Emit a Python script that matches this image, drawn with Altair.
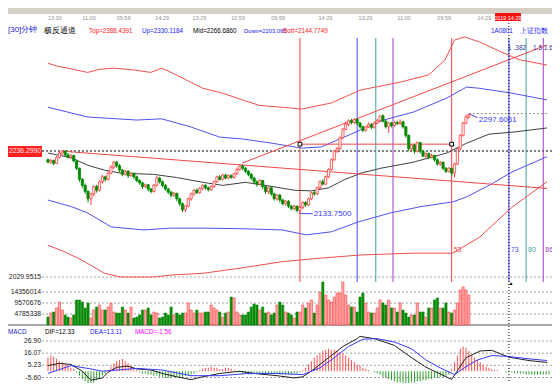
import altair as alt
import pandas as pd

# ---------------- candles (30-minute bars) ----------------
opens = [2222,2218,2221,2216,2226,2233,2236,2230,2226,2229,
 2220,2208,2190,2180,2170,2158,2166,2178,2172,2186,
 2194,2190,2200,2210,2218,2212,2205,2198,2203,2196,
 2200,2194,2188,2184,2178,2181,2174,2170,2180,2192,
 2186,2180,2174,2169,2164,2167,2158,2150,2140,2146,
 2158,2166,2172,2168,2175,2180,2176,2173,2178,2186,
 2194,2190,2197,2192,2196,2193,2199,2206,2212,2208,
 2203,2198,2192,2186,2182,2188,2178,2170,2176,2166,
 2158,2164,2156,2150,2154,2146,2142,2146,2139,2144,
 2152,2148,2158,2168,2166,2176,2186,2182,2194,2206,
 2222,2236,2240,2258,2272,2280,2286,2283,2288,2282,
 2276,2270,2276,2280,2275,2282,2286,2294,2285,2276,
 2282,2278,2283,2281,2284,2276,2262,2240,2246,2236,
 2250,2236,2228,2232,2226,2229,2222,2215,2218,2208,
 2203,2208,2200,2215,2240,2262,2282,2292]
closes = [2218,2221,2216,2226,2233,2236,2230,2226,2229,2220,
 2208,2190,2180,2170,2158,2166,2178,2172,2186,2194,
 2190,2200,2210,2218,2212,2205,2198,2203,2196,2200,
 2194,2188,2184,2178,2181,2174,2170,2180,2192,2186,
 2180,2174,2169,2164,2167,2158,2150,2140,2146,2158,
 2166,2172,2168,2175,2180,2176,2173,2178,2186,2194,
 2190,2197,2192,2196,2193,2199,2206,2212,2208,2203,
 2198,2192,2186,2182,2188,2178,2170,2176,2166,2158,
 2164,2156,2150,2154,2146,2142,2146,2139,2144,2152,
 2148,2158,2168,2166,2176,2186,2182,2194,2206,2222,
 2236,2240,2258,2272,2280,2286,2283,2288,2282,2276,
 2270,2276,2280,2275,2282,2286,2294,2285,2276,2282,
 2278,2283,2281,2284,2276,2262,2240,2246,2236,2250,
 2236,2228,2232,2226,2229,2222,2215,2218,2208,2203,
 2208,2200,2215,2240,2262,2282,2292,2296]
highs = [2224,2223,2222,2228,2236,2238,2238,2233,2231,2230,
 2221,2209,2192,2183,2172,2168,2180,2181,2188,2197,
 2196,2203,2213,2220,2220,2215,2207,2206,2205,2202,
 2201,2196,2190,2186,2183,2182,2176,2182,2195,2194,
 2188,2182,2176,2171,2169,2168,2160,2152,2148,2160,
 2168,2174,2175,2177,2182,2182,2178,2180,2188,2196,
 2197,2199,2199,2198,2198,2201,2209,2214,2214,2210,
 2205,2200,2194,2188,2190,2189,2180,2178,2178,2168,
 2166,2166,2158,2156,2156,2148,2148,2147,2146,2154,
 2154,2160,2170,2172,2178,2188,2190,2196,2208,2224,
 2238,2243,2260,2274,2284,2288,2289,2290,2290,2284,
 2278,2278,2283,2282,2285,2289,2293,2296,2287,2284,
 2284,2285,2286,2288,2286,2277,2263,2248,2248,2252,
 2251,2238,2234,2234,2232,2230,2224,2220,2219,2210,
 2210,2209,2217,2242,2264,2284,2296,2297.6061]
lows = [2216,2215,2213,2215,2224,2230,2228,2224,2223,2218,
 2205,2186,2176,2166,2152,2148,2162,2168,2170,2183,
 2186,2188,2198,2207,2209,2202,2195,2196,2192,2194,
 2190,2185,2181,2174,2176,2170,2167,2168,2178,2183,
 2177,2171,2166,2160,2161,2154,2146,2136,2136,2144,
 2155,2163,2166,2166,2172,2173,2170,2171,2176,2184,
 2188,2188,2190,2190,2191,2191,2197,2204,2205,2200,
 2195,2189,2182,2178,2180,2174,2166,2166,2163,2155,
 2155,2152,2147,2147,2143,2139,2139,2136,2133.75,2141,
 2145,2146,2156,2163,2164,2174,2180,2180,2192,2204,
 2220,2233,2238,2256,2270,2277,2280,2280,2279,2273,
 2267,2268,2274,2272,2273,2280,2284,2283,2273,2266,
 2275,2276,2279,2279,2273,2258,2236,2236,2232,2234,
 2232,2226,2225,2223,2224,2219,2212,2212,2205,2200,
 2201,2196,2193,2213,2238,2260,2280,2289]
# volume in units of 10,000 shares
volumes_wan = [348,522,566,740,1001,653,435,348,304,435,
 1088,1088,1001,740,957,304,653,783,870,653,
 653,783,957,566,522,522,783,653,522,783,
 304,348,435,653,653,740,435,566,522,304,
 348,522,435,783,435,522,435,522,522,957,
 653,522,653,522,522,566,566,870,740,653,
 566,348,522,566,1218,1175,566,435,435,435,
 566,783,914,870,653,783,522,566,435,522,
 870,1001,870,566,522,435,304,566,566,870,
 740,957,1088,522,870,1436,1871,1305,1088,1001,
 1218,1392,1392,1871,1305,870,783,783,566,1218,
 1392,957,566,522,522,740,1088,957,870,1088,
 740,740,566,957,653,522,348,435,435,957,
 566,566,348,740,740,1088,1175,740,740,957,
 566,522,653,957,1523,1653,1523,1305]
VOL_UNIT = 10000

# ---------------- MACD ----------------
macd_hist = [12,14,13,11,9,8,6,5,3,2,
 -1,-4,-7,-9,-11,-11,-10,-8,-6,-4,
 -2,1,4,7,9,10,11,9,7,5,
 3,1,-1,-2,-2,-3,-3,-4,-4,-5,
 -5,-6,-6,-6,-5,-5,-6,-5,-4,-4,
 -3,-2,-1,1,2,3,3,4,3,3,
 2,2,3,3,2,1,-1,-1,-2,-2,
 -3,-3,-2,-2,-3,-3,-3,-2,-2,-2,
 -2,-3,-3,-3,-3,-3,-2,-2,-1,1,
 3,6,9,12,14,16,18,19,20,19,
 19,18,17,16,14,12,10,8,6,5,
 3,2,1,0,-1,-2,-3,-5,-6,-7,
 -8,-9,-10,-10,-11,-11,-11,-10,-10,-9,
 -9,-8,-8,-7,-7,-6,-6,-5,-5,-4,
 -3,2,8,14,20,22,21,18,
 14,12,10,8,6,4,3,2,1,1,
 0,0,-1,-1,-1,-2,-2,-2,-2,-3,
 -3,-3,-3,-3,-3,-3,-3,-3]
dif_i = [0,4,8,12,15,19,21,24,28,31,36,40,45,50,54,60,67,72,80,86,89,93,98,103,108,109,114,121,127,132,141,146,151,155,161,168,174.3]
dif_v = [5,7,6,0,-8,-6,-1,3.5,4.5,2,1,-2,-5,-7.5,-5,-2,0,-2,-4,-6,-5,2,12,22,29,31,29,23,12,3.6,-7.3,12,18,18.6,12.5,9.5,7.8]
dea_i = [0,8,15,19,24,31,40,50,60,70,80,89,95,100,105,110,115,121,127,132,137,142,146,150,155,161,168,174.3]
dea_v = [-2,5,2,0,1,2.5,1,-4,-4,-2,-2,-3,3,12,22,28.5,29,26,20,10,3,-3,4,10,14,13.1,11,9.5]

# ---------------- 极反通道 bands ----------------
top_i = [0,3.4,6.9,13.8,17.9,23.1,30,35.9,39.7,44.8,54.1,61,67.9,73.8,81.7,88.6,99,109,123,133,138.6,142,145.5,150.7,157.6,164.5,174.3]
top_v = [2380,2375,2372,2365,2370,2372,2369,2365,2372,2361,2339,2331,2320,2311,2308,2305,2315,2336,2349,2361,2385,2418,2423,2415,2400,2386,2377]
up_i = [0,6.9,13.8,31,39.7,49.7,60,67.9,78.3,88.6,95.5,102.4,109.3,117.2,127.6,139.3,146.2,150.7,162,174.3]
up_v = [2308,2300,2292,2287,2289,2276,2259,2256,2249,2241,2243,2257,2271,2287,2300,2323,2341,2339,2331,2320]
mid_i = [0,8.3,13.8,19.7,25.5,36.9,44.8,54.1,61,69,77.2,86.2,92,98,103.4,109.3,116.2,127.6,139.3,146.2,154.1,162,174.3]
mid_v = [2233,2225,2213,2205,2200,2198,2193,2185,2180,2185,2179,2172,2171,2176,2189,2200,2208,2218,2233,2249,2264,2267,2274]
down_i = [0,8.3,13.8,22.1,33.4,42.8,54.1,67.9,81.7,90.3,99,108.3,119.7,130,141.4,146.2,155.2,162.1,174.3]
down_v = [2156,2145,2135,2112,2107,2110,2110,2109,2107,2099,2104,2120,2135,2145,2153,2161,2183,2202,2227]
bott_i = [0,5.9,11.7,19.7,25.5,31.7,36.9,42.8,54.1,67.9,81.7,95.5,109.3,127.6,141.4,150.7,162,174.3]
bott_v = [2082,2071,2058,2036,2030,2030,2030,2033,2036,2045,2055,2061,2066,2069,2069,2095,2144,2186]

# ---------------- drawn lines / marks ----------------
fib_i = [88, 108, 114.5, 120.5, 141, 161, 167, 173]
fib_col = ["#ff4040", "#4848ff", "#40a0a0", "#a040c0", "#ff4040", "#4848ff", "#40a0a0", "#a040c0"]
fib_lab = ["53", "73", "80", "86"]
fib_lab_i = [141, 161, 167, 173]
fib_lab_col = ["#ff4040", "#4848ff", "#40a0a0", "#a040c0"]
ratio_lab = ["1", ".382", "1.5", "1.6"]
ratio_i = [160.6, 162.6, 169.4, 173.2]

time_labels = ["13:30", "11:00", "09:59", "14:29", "13:29", "10:59", "09:59",
               "14:29", "13:29", "11:00", "09:59", "14:29"]
time_idx = [0, 12, 24, 37.5, 50.5, 64, 78, 94.5, 108.5, 122, 136, 150]

# ---------------- layout helpers ----------------
W, H = 510, 375
XS = alt.Scale(domain=[-0.342, 174.3], nice=False, zero=False)


def dom(v1, y1, v2, y2):
    s = (v1 - v2) / (y2 - y1)
    return [v1 - (383 - y1) * s, v1 + (y1 - 8) * s]


PS = alt.Scale(domain=dom(2236.299, 151, 2029.9515, 277), nice=False, zero=False)
VS = alt.Scale(domain=dom(1435.6014, 292, 0, 325), nice=False, zero=False)
MS = alt.Scale(domain=dom(26.90, 341, -5.60, 377.5), nice=False, zero=False)

FONT = "Liberation Sans"
UP_C, DN_C = "#ff3c3c", "#008a00"

n = len(opens)
assert len(closes) == n and len(highs) == n and len(lows) == n and len(volumes_wan) == n

cd = pd.DataFrame({"i": range(n), "o": opens, "c": closes, "h": highs, "l": lows,
                   "vol": volumes_wan, "z": 0})
cd["up"] = cd["c"] >= cd["o"]
cd["stroke"] = cd["up"].map({True: UP_C, False: DN_C})
cd["fill"] = cd["up"].map({True: "#ffffff", False: DN_C})
cd["vfill"] = cd["up"].map({True: "#ffb0b0", False: "#0a8a0a"})

X = alt.X("i:Q", scale=XS, axis=None)


def Yp(f):
    return alt.Y(f, scale=PS, axis=None)


def Yv(f):
    return alt.Y(f, scale=VS, axis=None)


def Ym(f):
    return alt.Y(f, scale=MS, axis=None)


one = pd.DataFrame({"a": [0]})
layers = []

# toolbar strip
layers.append(alt.Chart(one).mark_rect(color="#d4d0c8").encode(
    x=alt.value(-34), x2=alt.value(W), y=alt.value(-8), y2=alt.value(6)))

# grid lines
pg = pd.DataFrame({"v": [2236.299, 2029.9515], "col": ["#000000", "#a0a0a0"]})
layers.append(alt.Chart(pg).mark_rule(strokeDash=[2, 2], strokeWidth=1).encode(
    y=Yp("v:Q"), x=alt.value(0), x2=alt.value(W), color=alt.Color("col:N", scale=None)))
vg = pd.DataFrame({"v": [1435.6014, 957.0676, 478.5338]})
layers.append(alt.Chart(vg).mark_rule(strokeDash=[2, 2], color="#a0a0a0").encode(
    y=Yv("v:Q"), x=alt.value(0), x2=alt.value(W)))
layers.append(alt.Chart(pd.DataFrame({"v": [0]})).mark_rule(color="#505050").encode(
    y=Yv("v:Q"), x=alt.value(-34), x2=alt.value(W)))
mg = pd.DataFrame({"v": [26.90, 16.07, 5.23, -5.60]})
layers.append(alt.Chart(mg).mark_rule(strokeDash=[2, 2], color="#a0a0a0").encode(
    y=Ym("v:Q"), x=alt.value(0), x2=alt.value(W)))

# fibonacci time lines
fd = pd.DataFrame({"i": fib_i, "col": fib_col})
layers.append(alt.Chart(fd).mark_rule(strokeWidth=1).encode(
    x=X, y=alt.value(30), y2=alt.value(274), color=alt.Color("col:N", scale=None)))

# bands
rows = []
for name, xs, vs, col in [("top", top_i, top_v, "#f05050"), ("up", up_i, up_v, "#5050f0"),
                          ("mid", mid_i, mid_v, "#404040"), ("down", down_i, down_v, "#5050f0"),
                          ("bott", bott_i, bott_v, "#f05050")]:
    for a, b in zip(xs, vs):
        rows.append({"i": a, "v": b, "band": name, "col": col})
bd = pd.DataFrame(rows)
layers.append(alt.Chart(bd).mark_line(strokeWidth=1).encode(
    x=X, y=Yp("v:Q"), detail="band:N", color=alt.Color("col:N", scale=None)))

# channel / drawn lines
seg = pd.DataFrame([
    {"i": 5, "v": 2236, "s": "a", "col": "#f04848"},
    {"i": 174.3, "v": 2175, "s": "a", "col": "#f04848"},
    {"i": 67.9, "v": 2216.6, "s": "b", "col": "#f04848"},
    {"i": 174.3, "v": 2410, "s": "b", "col": "#f04848"},
    {"i": 88, "v": 2247.5, "s": "c", "col": "#f04848"},
    {"i": 141, "v": 2247.5, "s": "c", "col": "#f04848"},
    {"i": 147, "v": 2297.6061, "s": "d", "col": "#4848ff"},
    {"i": 150, "v": 2291, "s": "d", "col": "#4848ff"},
    {"i": 88, "v": 2133.75, "s": "e", "col": "#4848ff"},
    {"i": 92.5, "v": 2133.75, "s": "e", "col": "#4848ff"},
])
layers.append(alt.Chart(seg).mark_line(strokeWidth=1).encode(
    x=X, y=Yp("v:Q"), detail="s:N", color=alt.Color("col:N", scale=None)))
hl = pd.DataFrame({"i": [147, 174.3], "v": [2297.6061, 2297.6061]})
layers.append(alt.Chart(hl).mark_line(strokeWidth=1, strokeDash=[2, 2], color="#909090").encode(
    x=X, y=Yp("v:Q")))

# candles
layers.append(alt.Chart(cd).mark_rule(strokeWidth=1).encode(
    x=X, y=Yp("l:Q"), y2="h:Q", color=alt.Color("stroke:N", scale=None)))
layers.append(alt.Chart(cd).mark_bar(size=2.2, strokeWidth=0.8).encode(
    x=X, y=Yp("o:Q"), y2="c:Q", fill=alt.Fill("fill:N", scale=None),
    stroke=alt.Stroke("stroke:N", scale=None)))

# square markers
sq = pd.DataFrame({"i": [88, 141], "v": [2247.5, 2247.5]})
layers.append(alt.Chart(sq).mark_point(shape="square", size=14, filled=True, fill="#ffffff",
                                       stroke="#000000", strokeWidth=1, opacity=1).encode(
    x=X, y=Yp("v:Q")))

# volume
layers.append(alt.Chart(cd).mark_bar(size=2.2, strokeWidth=0.6).encode(
    x=X, y=Yv("vol:Q"), y2="z:Q", fill=alt.Fill("vfill:N", scale=None),
    stroke=alt.Stroke("stroke:N", scale=None)))

# MACD histogram and lines
hd = pd.DataFrame({"i": range(len(macd_hist)), "h": macd_hist, "z": 0})
hd["col"] = [("#ff5050" if v > 0 else "#30a030") for v in macd_hist]
layers.append(alt.Chart(hd).mark_rule(strokeWidth=1).encode(
    x=X, y=Ym("h:Q"), y2="z:Q", color=alt.Color("col:N", scale=None)))
layers.append(alt.Chart(pd.DataFrame({"i": dif_i, "v": dif_v})).mark_line(
    strokeWidth=1, color="#202020").encode(x=X, y=Ym("v:Q")))
layers.append(alt.Chart(pd.DataFrame({"i": dea_i, "v": dea_v})).mark_line(
    strokeWidth=1, color="#3838ff").encode(x=X, y=Ym("v:Q")))

# cursor line
layers.append(alt.Chart(pd.DataFrame({"i": [161]})).mark_rule(
    strokeDash=[1, 2], color="#000000").encode(x=X, y=alt.value(6), y2=alt.value(376)))
layers.append(alt.Chart(pd.DataFrame({"i": [161], "v": [2020], "t": ["▲"]})).mark_text(
    fontSize=5, color="#000000", dx=2).encode(x=X, y=Yp("v:Q"), text="t:N"))

# price-box on the left
layers.append(alt.Chart(one).mark_rect(color="#ff2020").encode(
    x=alt.value(-34), x2=alt.value(0), y=alt.value(138), y2=alt.value(149)))
layers.append(alt.Chart(pd.DataFrame({"v": [2236.299], "t": ["2236.2990"]})).mark_text(
    align="center", baseline="middle", fontSize=6.8, font=FONT, color="#ffe8e8").encode(
    x=alt.value(-17), y=Yp("v:Q"), text="t:N"))

# left axis labels
lab_kw = dict(align="right", baseline="middle", fontSize=6.8, font=FONT, color="#202020")
layers.append(alt.Chart(pd.DataFrame({"v": [2029.9515], "t": ["2029.9515"]})).mark_text(
    **lab_kw).encode(x=alt.value(-1), y=Yp("v:Q"), text="t:N"))
layers.append(alt.Chart(pd.DataFrame({"v": [1435.6014, 957.0676, 478.5338],
                                      "t": ["14356014", "9570676", "4785338"]})).mark_text(
    **lab_kw).encode(x=alt.value(-1), y=Yv("v:Q"), text="t:N"))
layers.append(alt.Chart(pd.DataFrame({"v": [26.90, 16.07, 5.23, -5.60],
                                      "t": ["26.90", "16.07", "5.23", "-5.60"]})).mark_text(
    **lab_kw).encode(x=alt.value(-1), y=Ym("v:Q"), text="t:N"))

# price annotations
layers.append(alt.Chart(pd.DataFrame({"i": [150.5], "v": [2297.6061], "t": ["2297.6061"]})).mark_text(
    align="left", baseline="middle", dy=6, fontSize=8, font=FONT, color="#3838ff").encode(
    x=X, y=Yp("v:Q"), text="t:N"))
layers.append(alt.Chart(pd.DataFrame({"i": [92.8], "v": [2133.75], "t": ["2133.7500"]})).mark_text(
    align="left", baseline="middle", fontSize=8, font=FONT, color="#3838ff").encode(
    x=X, y=Yp("v:Q"), text="t:N"))
layers.append(alt.Chart(pd.DataFrame({"i": fib_lab_i, "v": [2074] * 4, "t": fib_lab,
                                      "col": fib_lab_col})).mark_text(
    align="left", baseline="middle", dx=2, fontSize=7, font=FONT).encode(
    x=X, y=Yp("v:Q"), text="t:N", color=alt.Color("col:N", scale=None)))
layers.append(alt.Chart(pd.DataFrame({"i": ratio_i, "v": [2405] * 4, "t": ratio_lab})).mark_text(
    align="left", baseline="middle", fontSize=6.5, font=FONT, color="#3030a0").encode(
    x=X, y=Yp("v:Q"), text="t:N"))

# time row
layers.append(alt.Chart(pd.DataFrame({"i": time_idx, "t": time_labels})).mark_text(
    align="left", baseline="middle", fontSize=5.5, font=FONT, color="#909090").encode(
    x=X, y=alt.value(10), text="t:N"))
layers.append(alt.Chart(one).mark_rect(color="#ff1010").encode(
    x=alt.value(453), x2=alt.value(479), y=alt.value(5), y2=alt.value(13)))
layers.append(alt.Chart(pd.DataFrame({"t": ["0119 14:29"]})).mark_text(
    align="center", baseline="middle", fontSize=5.5, font=FONT, color="#ffffff").encode(
    x=alt.value(466), y=alt.value(9.5), text="t:N"))

# header texts
hdr_big = pd.DataFrame([
    {"x": -34, "y": 22, "t": "[30]分钟", "col": "#2020d0", "s": 8},
    {"x": 2, "y": 23, "t": "极反通道", "col": "#000000", "s": 8},
    {"x": 478, "y": 23, "t": "上证指数", "col": "#2020ff", "s": 7},
])
layers.append(alt.Chart(hdr_big).mark_text(align="left", baseline="middle",
                                           font=FONT).encode(
    x=alt.X("x:Q", scale=None), y=alt.Y("y:Q", scale=None), text="t:N",
    size=alt.Size("s:Q", scale=None, legend=None),
    color=alt.Color("col:N", scale=None)))
hdr = pd.DataFrame([
    {"x": 47, "y": 23, "t": "Top=2388.4391", "col": "#ff2020", "s": 6.3},
    {"x": 100, "y": 23, "t": "Up=2330.1184", "col": "#2020ff", "s": 6.3},
    {"x": 151, "y": 23, "t": "Mid=2266.6860", "col": "#000000", "s": 6.3},
    {"x": 202, "y": 23, "t": "Down=2203.095", "col": "#2020ff", "s": 5.8},
    {"x": 241, "y": 23, "t": "Bott=2144.7749", "col": "#ff2020", "s": 6.3},
    {"x": 449, "y": 23, "t": "1A0801", "col": "#2020ff", "s": 6.3},
    {"x": -34, "y": 324, "t": "MACD", "col": "#2020d0", "s": 6.3},
    {"x": 3, "y": 324, "t": "DIF=12.33", "col": "#000000", "s": 6.3},
    {"x": 48, "y": 324, "t": "DEA=13.11", "col": "#2020ff", "s": 6.3},
    {"x": 93, "y": 324, "t": "MACD=-1.56", "col": "#ff00ff", "s": 6.3},
])
layers.append(alt.Chart(hdr).mark_text(align="left", baseline="middle",
                                       font=FONT).encode(
    x=alt.X("x:Q", scale=None), y=alt.Y("y:Q", scale=None), text="t:N",
    size=alt.Size("s:Q", scale=None, legend=None),
    color=alt.Color("col:N", scale=None)))

chart = alt.layer(*layers).resolve_scale(y="independent").properties(
    width=W, height=H,
    autosize=alt.AutoSizeParams(type="none"),
    padding={"left": 34, "right": 0, "top": 0, "bottom": 0},
).configure_view(stroke=None)

chart.save("out.html", embed_options={"renderer": "svg", "actions": False})
